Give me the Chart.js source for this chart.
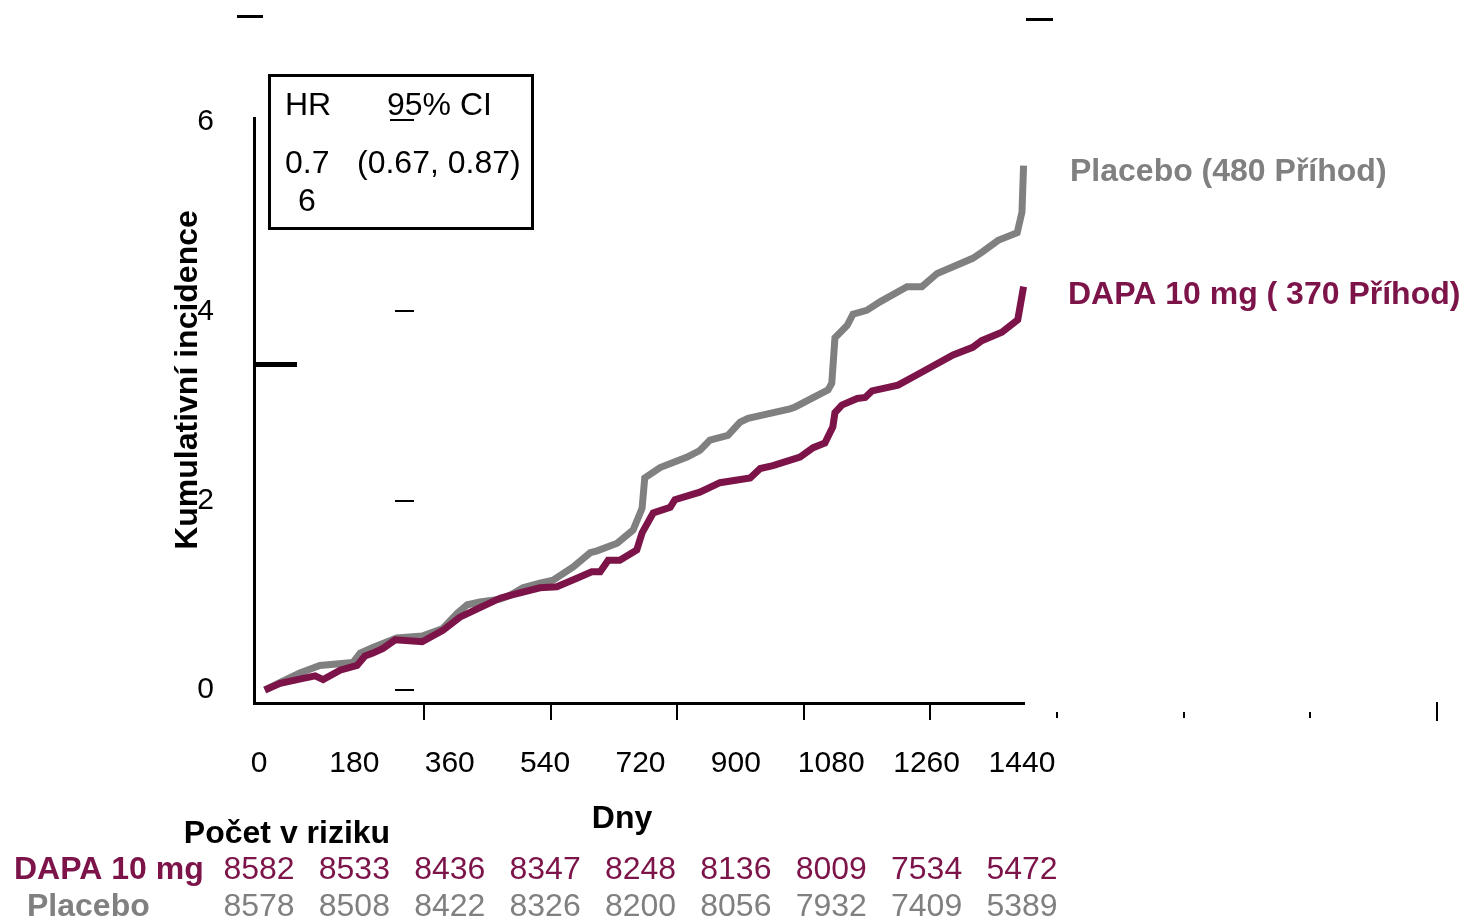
<!DOCTYPE html>
<html>
<head>
<meta charset="utf-8">
<script src="https://cdn.jsdelivr.net/npm/chart.js@4.4.0/dist/chart.umd.min.js"></script>
<style>
  html, body { margin: 0; padding: 0; background: #fff; }
  canvas { display: block; }
</style>
</head>
<body>
<canvas id="kmChart" width="1461" height="919"></canvas>
<script>
// Days shown on the x axis and in the at-risk table
const xTicks = [0, 180, 360, 540, 720, 900, 1080, 1260, 1440];
const yTicks = [0, 2, 4, 6];

// Cumulative incidence, placebo
const placeboDays = [11, 40, 77, 115, 177, 191, 215, 260, 308, 347, 374, 393, 417, 455, 474, 498, 530, 555, 593, 625,
  638, 676, 706, 723, 728, 757, 808, 832, 851, 885, 908, 923, 1002, 1012, 1074, 1081, 1087, 1110, 1121, 1147,
  1172, 1223, 1251, 1280, 1347, 1366, 1395, 1431, 1440, 1443];
const placeboValues = [0.00, 0.08, 0.18, 0.26, 0.29, 0.39, 0.45, 0.55, 0.57, 0.65, 0.81, 0.90, 0.93, 0.96, 1.00, 1.08, 1.13, 1.16, 1.30, 1.45,
  1.47, 1.55, 1.69, 1.92, 2.24, 2.35, 2.46, 2.53, 2.64, 2.69, 2.83, 2.87, 2.97, 2.99, 3.17, 3.24, 3.72, 3.85, 3.97, 4.01,
  4.10, 4.26, 4.26, 4.40, 4.56, 4.63, 4.75, 4.83, 5.05, 5.54];

// Cumulative incidence, DAPA 10 mg
const dapaDays = [11, 40, 81, 106, 121, 153, 185, 200, 215, 234, 257, 308, 347, 379, 417, 455, 474, 530, 562, 600,
  628, 644, 659, 681, 713, 723, 744, 776, 785, 832, 870, 927, 946, 970, 1021, 1046, 1068, 1083, 1087, 1100,
  1129, 1144, 1157, 1206, 1242, 1310, 1347, 1364, 1402, 1432, 1443];
const dapaValues = [0.00, 0.07, 0.12, 0.15, 0.11, 0.21, 0.26, 0.36, 0.39, 0.44, 0.53, 0.51, 0.63, 0.77, 0.87, 0.97, 1.00, 1.08, 1.09, 1.18,
  1.25, 1.25, 1.37, 1.37, 1.48, 1.66, 1.87, 1.93, 2.01, 2.09, 2.19, 2.24, 2.34, 2.37, 2.46, 2.56, 2.61, 2.78, 2.93, 3.01,
  3.08, 3.09, 3.16, 3.22, 3.33, 3.54, 3.62, 3.69, 3.78, 3.91, 4.26];

// Number at risk
const dapaAtRisk = [8582, 8533, 8436, 8347, 8248, 8136, 8009, 7534, 5472];
const placeboAtRisk = [8578, 8508, 8422, 8326, 8200, 8056, 7932, 7409, 5389];

const MAROON = '#7c144a';
const GREY = '#808080';
const FONT = '"Liberation Sans", Arial, sans-serif';

function toPoints(days, values) {
  return days.map((d, i) => ({ x: d, y: values[i] }));
}

function drawText(ctx, str, x, y, size, color, align, bold) {
  ctx.font = (bold ? 'bold ' : '') + size + 'px ' + FONT;
  ctx.fillStyle = color;
  ctx.textAlign = align;
  ctx.textBaseline = 'middle';
  ctx.fillText(str, x, y);
}

// Everything around the plot: HR box, series labels, axis titles, risk table, stray marks
const annotations = {
  id: 'annotations',
  afterDraw(chart) {
    const ctx = chart.ctx;
    const xs = chart.scales.x;
    const ys = chart.scales.y;
    const area = chart.chartArea;
    ctx.save();

    // HR box
    ctx.strokeStyle = '#000';
    ctx.lineWidth = 3;
    ctx.strokeRect(269.5, 75.5, 263, 153);
    drawText(ctx, 'HR', 285, 106, 32, '#000', 'left');
    drawText(ctx, '95% CI', 387, 106, 32, '#000', 'left');
    ctx.fillStyle = '#000';
    ctx.fillRect(390, 119, 24, 2);
    drawText(ctx, '0.7', 285, 164, 32, '#000', 'left');
    drawText(ctx, '(0.67, 0.87)', 357, 164, 32, '#000', 'left');
    drawText(ctx, '6', 298, 202, 32, '#000', 'left');

    // series labels at the right
    drawText(ctx, 'Placebo (480 Příhod)', 1070, 172, 32, GREY, 'left', true);
    drawText(ctx, 'DAPA 10 mg ( 370 Příhod)', 1068, 295, 32, MAROON, 'left', true);

    // y title
    ctx.save();
    ctx.translate(188, 380);
    ctx.rotate(-Math.PI / 2);
    drawText(ctx, 'Kumulativní incidence', 0, 0, 32, '#000', 'center', true);
    ctx.restore();

    // x title
    drawText(ctx, 'Dny', 622, 819, 32, '#000', 'center', true);

    // number at risk
    drawText(ctx, 'Počet v riziku', 287, 834, 32, '#000', 'center', true);
    drawText(ctx, 'DAPA 10 mg', 14, 870, 32, MAROON, 'left', true);
    drawText(ctx, 'Placebo', 27, 907, 32, GREY, 'left', true);
    xTicks.forEach((d, i) => {
      const px = xs.getPixelForValue(d);
      drawText(ctx, String(dapaAtRisk[i]), px, 870, 32, MAROON, 'center');
      drawText(ctx, String(placeboAtRisk[i]), px, 907, 32, GREY, 'center');
    });

    // stray marks left over in the original figure
    ctx.fillStyle = '#000';
    ctx.fillRect(237, 15, 26, 3);
    ctx.fillRect(1026, 18, 27, 3);
    ctx.fillRect(area.left, 362, 43, 5);
    yTicks.slice(0, 3).forEach(v => {
      ctx.fillRect(395, Math.round(ys.getPixelForValue(v)) - 1, 19, 2);
    });
    for (let k = 0; k < 9; k++) {
      const px = Math.round(424 + k * 126.6);
      if (k < 5) ctx.fillRect(px - 1, area.bottom, 2, 17);
      else if (k < 8) ctx.fillRect(px - 1, 712, 2, 6);
      else ctx.fillRect(px - 1, 702, 2, 19);
    }
    ctx.restore();
  }
};

new Chart(document.getElementById('kmChart').getContext('2d'), {
  type: 'line',
  data: {
    datasets: [
      {
        label: 'DAPA 10 mg',
        data: toPoints(dapaDays, dapaValues),
        borderColor: MAROON,
        borderWidth: 7,
        pointRadius: 0,
        tension: 0,
        clip: 8
      },
      {
        label: 'Placebo',
        data: toPoints(placeboDays, placeboValues),
        borderColor: GREY,
        borderWidth: 7,
        pointRadius: 0,
        tension: 0,
        clip: 8
      }
    ]
  },
  options: {
    responsive: false,
    animation: false,
    devicePixelRatio: 1,
    layout: { padding: { left: 0, top: 118, right: 437, bottom: 0 } },
    plugins: {
      legend: { display: false },
      tooltip: { enabled: false }
    },
    scales: {
      x: {
        type: 'linear',
        min: -9.44,
        max: 1443.8,
        afterBuildTicks: scale => { scale.ticks = xTicks.map(v => ({ value: v })); },
        afterFit: scale => { scale.height = 216; },
        grid: { display: false, drawTicks: false },
        border: { display: true, color: '#000', width: 3 },
        ticks: {
          color: '#000',
          padding: 43,
          maxRotation: 0,
          autoSkip: false,
          callback: v => String(v),
          font: { family: FONT, size: 30 }
        }
      },
      y: {
        type: 'linear',
        min: -0.137,
        max: 6.042,
        afterBuildTicks: scale => { scale.ticks = yTicks.map(v => ({ value: v })); },
        afterFit: scale => { scale.width = 254; },
        grid: { display: false, drawTicks: false },
        border: { display: true, color: '#000', width: 3 },
        ticks: {
          color: '#000',
          padding: 40,
          callback: v => String(v),
          font: { family: FONT, size: 30 }
        }
      }
    }
  },
  plugins: [annotations]
});
</script>
</body>
</html>
